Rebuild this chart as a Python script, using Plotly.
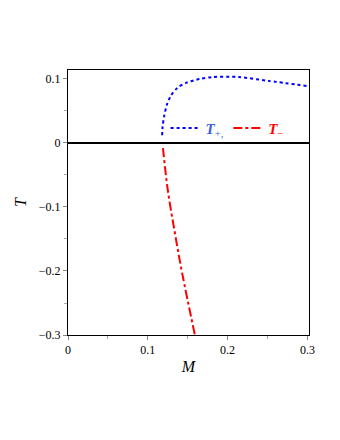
import plotly.graph_objects as go

M_plus = [0.118, 0.1185, 0.1205, 0.124, 0.129, 0.137, 0.148, 0.165, 0.181, 0.214, 0.251, 0.30]
T_plus = [0.012, 0.025, 0.042, 0.060, 0.074, 0.086, 0.094, 0.100, 0.103, 0.103, 0.097, 0.089]
M_minus = [0.119, 0.125, 0.134, 0.143, 0.159]
T_minus = [-0.008, -0.073, -0.141, -0.203, -0.300]
x_ticks = [0, 0.1, 0.2, 0.3]
y_ticks = [0.1, 0, -0.1, -0.2, -0.3]
y_tick_labels = ["0.1", "0", "\u22120.1", "\u22120.2", "\u22120.3"]

SERIF = "Liberation Serif, Times New Roman, serif"

fig = go.Figure()
fig.add_trace(go.Scatter(x=M_plus, y=T_plus, mode="lines", line=dict(color="blue", dash="dot", width=2, shape="spline", smoothing=0.8),
                         name="<span style='color:#3a5fe0'><b><i>T</i></b><sub>+,</sub></span>"))
fig.add_trace(go.Scatter(x=M_minus, y=T_minus, mode="lines", line=dict(color="red", dash="dashdot", width=2, shape="spline"),
                         name="<span style='color:red'><b><i>T</i></b><sub>\u2212</sub></span>"))
fig.add_hline(y=0, line=dict(color="black", width=2))

fig.update_layout(
    width=340, height=440,
    margin=dict(l=54, r=39, t=62, b=113),
    paper_bgcolor="white", plot_bgcolor="white",
    font=dict(family=SERIF, size=12, color="black"),
    showlegend=True,
    legend=dict(orientation="h", x=0.405, y=0.78, xanchor="left", yanchor="middle",
                bgcolor="rgba(0,0,0,0)", font=dict(size=15, family=SERIF), itemwidth=30, tracegroupgap=0),
    xaxis=dict(range=[0, 0.302], tickvals=x_ticks, ticktext=["0", "0.1", "0.2", "0.3"],
               showgrid=False, zeroline=False, showline=True, linecolor="black", mirror=True,
               ticks="outside", ticklen=4, tickcolor="#888", tickfont=dict(family=SERIF, size=12),
               minor=dict(tickvals=[0.05, 0.15, 0.25], ticks="outside", ticklen=3, tickcolor="#aaa"),
               title=dict(text="<i>M</i>", font=dict(size=16, family=SERIF), standoff=4)),
    yaxis=dict(range=[-0.3, 0.114], tickvals=y_ticks, ticktext=y_tick_labels,
               showgrid=False, zeroline=False, showline=True, linecolor="black", mirror=True,
               ticks="outside", ticklen=4, tickcolor="#888", tickfont=dict(family=SERIF, size=12),
               minor=dict(tickvals=[0.05, -0.05, -0.15, -0.25], ticks="outside", ticklen=3, tickcolor="#aaa"),
               title=dict(text="<i>T</i>", font=dict(size=16, family=SERIF), standoff=8)),
)
fig.write_html("out.html")
